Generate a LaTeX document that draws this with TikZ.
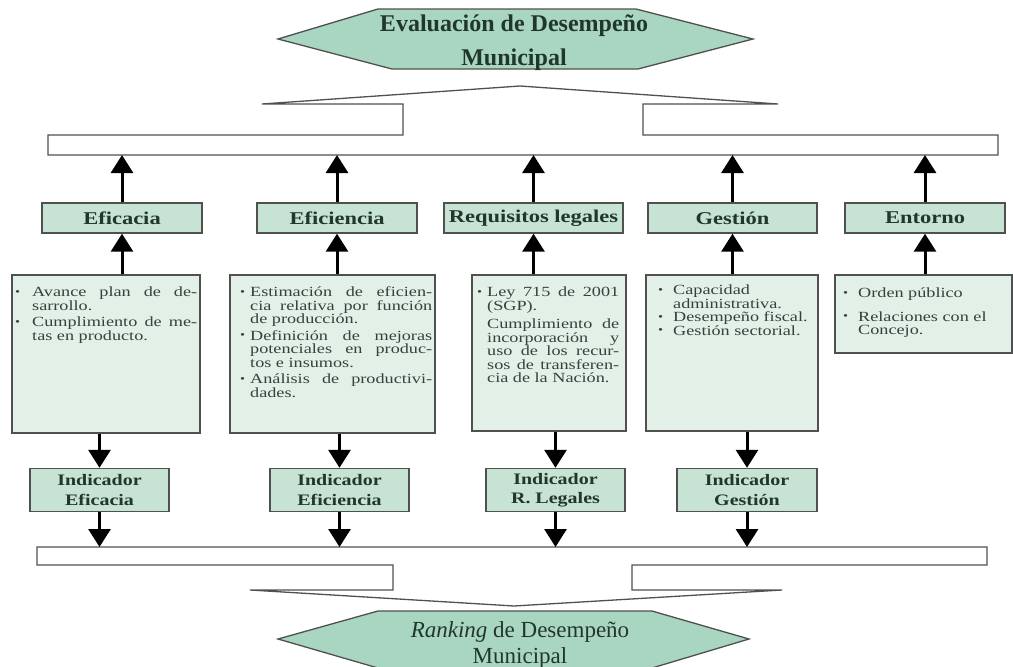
\documentclass[tikz,border=0pt]{standalone}
\usepackage{fontspec}
\setmainfont{Liberation Serif}
\newfontfamily\bodyf{Liberation Serif}[FakeStretch=1.3]
\newfontfamily\catf{Liberation Serif}[FakeStretch=1.25]
\usetikzlibrary{arrows.meta,calc}
\definecolor{hexfill}{HTML}{A9D6C0}
\definecolor{catfill}{HTML}{C7E3D3}
\definecolor{detfill}{HTML}{E3F0E8}
\definecolor{edgec}{HTML}{505050}
\definecolor{txt}{HTML}{34423B}
\definecolor{cattxt}{HTML}{22372C}
\tolerance=10000 \hbadness=10000 \hyphenpenalty=10000 \hfuzz=20pt
\newcommand{\bul}[2]{\par\hangindent=#1\hangafter=1\noindent\makebox[#1][l]{\raisebox{1.3pt}{\fontsize{11}{11}\selectfont\textbullet}}#2}
\newcommand{\rbreak}{\hfil\break}
\newcommand{\firstline}{\vrule height 11pt depth 0pt width 0pt\relax}
\newcommand{\dsetup}{\lineskiplimit=-20pt\relax\parskip=3pt\relax}
\tikzset{
  frame/.style={draw=edgec, line width=1.4pt},
  catbox/.style={frame, fill=catfill, minimum height=30pt, inner sep=0pt, text=cattxt,
    font=\catf\bfseries\fontsize{18}{20}\selectfont},
  indbox/.style={frame, fill=catfill, minimum height=43pt, inner sep=0pt, text=cattxt, align=center,
    font=\catf\bfseries\fontsize{16}{19.5}\selectfont},
  detbox/.style={frame, fill=detfill, inner sep=0pt},
  dtext/.style={anchor=north west, inner sep=0pt, text=txt, align=justify,
    font=\bodyf\fontsize{14}{13.5}\selectfont},
  hexshape/.style={draw=edgec, line width=1.3pt, fill=hexfill},
  hextext/.style={align=center, inner sep=0pt, text=cattxt},
  bracket/.style={draw=edgec, line width=1.3pt, fill=white, line join=miter},
  arr/.style={line width=3pt, draw=black, -{Triangle[length=18pt,width=22pt]}}
}
\begin{document}
\begin{tikzpicture}[x=1pt,y=-1pt]
\useasboundingbox (0,0) rectangle (1013,667);
\fill[white] (0,0) rectangle (1013,667);

% top hexagon
\draw[hexshape] (278,39) -- (378,9) -- (636,9) -- (753,39) -- (638,69) -- (392,69) -- cycle;
\node[hextext, font=\bfseries\fontsize{24}{34}\selectfont] (evaltitle) at (514,43) {Evaluación de Desempeño\\Municipal};

% top bracket + bar
\draw[bracket] (48,135) -- (403,135) -- (403,104) -- (262,104) -- (520,86) -- (778,104)
  -- (643,104) -- (643,135) -- (998,135) -- (998,155) -- (48,155) -- cycle;
\coordinate (barT) at (0,155);

% bottom bracket + bar
\draw[bracket] (37,547) -- (987,547) -- (987,565) -- (632,565) -- (632,590) -- (782,590)
  -- (514,606) -- (250,590) -- (393,590) -- (393,565) -- (37,565) -- cycle;
\coordinate (barB) at (0,547);

% bottom hexagon
\draw[hexshape] (278,639) -- (378,611) -- (652,611) -- (749,639) -- (652,668) -- (378,668) -- cycle;
\node[hextext, font=\fontsize{23}{26}\selectfont] (ranktitle) at (520,645) {\textit{Ranking} de Desempeño\\Municipal};

% category boxes
\node[catbox, minimum width=160pt] (c1) at (122,218) {Eficacia};
\node[catbox, minimum width=160pt] (c2) at (337,218) {Eficiencia};
\node[catbox, minimum width=179pt] (c3) at (533.5,218) {Requisitos legales};
\node[catbox, minimum width=169pt] (c4) at (732.5,218) {Gestión};
\node[catbox, minimum width=160pt] (c5) at (925,218) {Entorno};

% detail boxes
\node[detbox, minimum width=188pt, minimum height=158pt] (d1) at (106,354) {};
\node[detbox, minimum width=205pt, minimum height=158pt] (d2) at (332.5,354) {};
\node[detbox, minimum width=154pt, minimum height=156pt] (d3) at (549,353) {};
\node[detbox, minimum width=172pt, minimum height=156pt] (d4) at (732,353) {};
\node[detbox, minimum width=177pt, minimum height=78pt] (d5) at (923.5,314) {};

% detail texts
\node[dtext, text width=182pt] (t1) at (15,280) {\dsetup
\bul{17pt}{\firstline Avance plan de de-\linebreak sarrollo.}
\bul{17pt}{Cumplimiento de me-\linebreak tas en producto.}\par};
\node[dtext, text width=192pt] (t2) at (240,280) {\dsetup
\bul{10pt}{\firstline Estimación de eficien-\linebreak cia relativa por función\linebreak de producción.}
\bul{10pt}{Definición de mejoras\linebreak potenciales en produc-\linebreak tos e insumos.}
\bul{10pt}{Análisis de productivi-\linebreak dades.}\par};
\node[dtext, text width=142pt] (t3) at (477,280) {\dsetup
\bul{10pt}{\firstline Ley 715 de 2001\linebreak (SGP).}
\par\vspace{2pt}{\leftskip=10pt\noindent Cumplimiento de\linebreak incorporación y\linebreak uso de los recur-\linebreak sos de transferen-\linebreak cia de la Nación.\par}};
\node[dtext, text width=158pt] (t4) at (658,281) {\dsetup\parskip=0pt\relax
\bul{15pt}{\firstline Capacidad\rbreak administrativa.}
\bul{15pt}{Desempeño fiscal.}
\bul{15pt}{Gestión sectorial.}\par};
\node[dtext, text width=160pt] (t5) at (843,281) {\dsetup
\bul{15pt}{\firstline Orden público}
\par\vspace{7pt}
\bul{15pt}{Relaciones con el\rbreak Concejo.}\par};

% indicator boxes
\node[indbox, minimum width=139pt] (i1) at (99.5,490) {Indicador\\Eficacia};
\node[indbox, minimum width=139pt] (i2) at (339.5,490) {Indicador\\Eficiencia};
\node[indbox, minimum width=139pt] (i3) at (555.5,490) {Indicador\\R. Legales};
\node[indbox, minimum width=140pt] (i4) at (747,490) {Indicador\\Gestión};

% arrows: categories -> top bar
\foreach \c in {c1,c2,c3,c4,c5}{
  \draw[arr] (\c.north) -- (\c.north |- barT);
}
% details -> categories
\draw[arr] (c1.south |- d1.north) -- (c1.south);
\draw[arr] (c2.south |- d2.north) -- (c2.south);
\draw[arr] (c3.south |- d3.north) -- (c3.south);
\draw[arr] (c4.south |- d4.north) -- (c4.south);
\draw[arr] (c5.south |- d5.north) -- (c5.south);
% details -> indicators
\draw[arr] (i1.north |- d1.south) -- (i1.north);
\draw[arr] (i2.north |- d2.south) -- (i2.north);
\draw[arr] (i3.north |- d3.south) -- (i3.north);
\draw[arr] (i4.north |- d4.south) -- (i4.north);
% indicators -> bottom bar
\foreach \i in {i1,i2,i3,i4}{
  \draw[arr] (\i.south) -- (\i.south |- barB);
}
\end{tikzpicture}
\end{document}
